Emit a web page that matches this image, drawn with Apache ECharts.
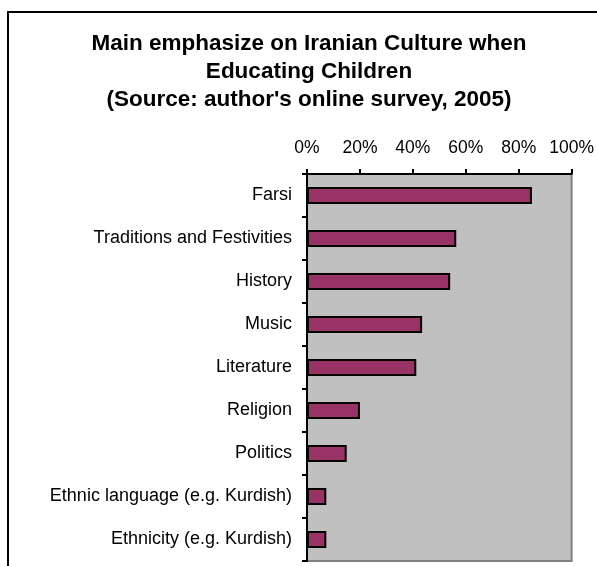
<!DOCTYPE html>
<html>
<head>
<meta charset="utf-8">
<script src="https://cdn.jsdelivr.net/npm/echarts@6/dist/echarts.min.js"></script>
<style>
html,body{margin:0;padding:0;background:#fff;}
#chart{width:597px;height:566px;}
</style>
</head>
<body>
<div id="chart"></div>
<script>
const titleText = "Main emphasize on Iranian Culture when\nEducating Children\n(Source: author's online survey, 2005)";
const categories = ["Farsi", "Traditions and Festivities", "History", "Music", "Literature", "Religion", "Politics", "Ethnic language (e.g. Kurdish)", "Ethnicity (e.g. Kurdish)"];
const values = [85, 56.4, 54.1, 43.5, 41.3, 20, 15, 7.3, 7.3];
const xTicks = [0, 20, 40, 60, 80, 100];

const chart = echarts.init(document.getElementById('chart'), null, {renderer: 'canvas'});
const font = '"Liberation Sans", Arial, sans-serif';
chart.setOption({
  animation: false,
  backgroundColor: '#ffffff',
  title: {
    text: titleText,
    left: 304,
    top: 25,
    textAlign: 'center',
    textStyle: {fontFamily: font, fontSize: 22.5, fontWeight: 'bold', color: '#000', lineHeight: 28}
  },
  graphic: [{
    type: 'rect',
    shape: {x: 8, y: 12, width: 620, height: 620},
    style: {fill: 'none', stroke: '#000', lineWidth: 2},
    silent: true
  }],
  grid: {
    left: 307, right: 24, top: 174, bottom: 5,
    show: true, backgroundColor: '#C0C0C0', borderColor: '#808080', borderWidth: 2
  },
  xAxis: {
    type: 'value', position: 'top', min: xTicks[0], max: xTicks[xTicks.length - 1], interval: 20,
    axisLine: {show: true, lineStyle: {color: '#000', width: 2}},
    axisTick: {show: true, length: 5, lineStyle: {color: '#000', width: 2}},
    splitLine: {show: false},
    axisLabel: {margin: 17, fontFamily: font, fontSize: 17.5, color: '#000', formatter: v => v + '%'}
  },
  yAxis: {
    type: 'category', inverse: true, data: categories,
    axisLine: {show: true, lineStyle: {color: '#000', width: 2}},
    axisTick: {show: true, length: 5, lineStyle: {color: '#000', width: 2}},
    axisLabel: {margin: 15, fontFamily: font, fontSize: 18, color: '#000'}
  },
  series: [{
    type: 'bar', data: values, barWidth: 17,
    itemStyle: {color: '#993366', borderColor: '#000', borderWidth: 2}
  }]
});
</script>
</body>
</html>
